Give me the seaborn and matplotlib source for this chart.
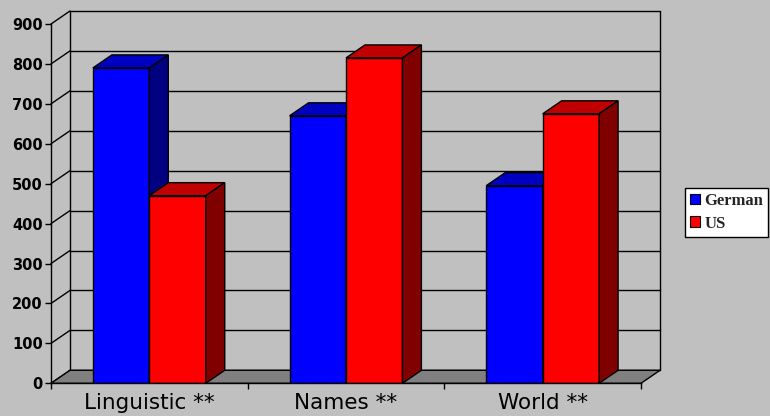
import pandas as pd
import seaborn as sns
import matplotlib.pyplot as plt
from matplotlib.patches import Polygon, Patch

# data
CATEGORIES = ["Linguistic **", "Names **", "World **"]
GROUPS = ["German", "US"]
GERMAN = [790, 670, 495]
US = [470, 815, 675]
Y_TICKS = [0, 100, 200, 300, 400, 500, 600, 700, 800, 900]

# Excel-ish colours: front, top, side
FACE = {"German": "#0000FF", "US": "#FF0000"}
TOP = {"German": "#0000C0", "US": "#C00000"}
SIDE = {"German": "#000080", "US": "#800000"}
BG = "#C0C0C0"
FLOOR = "#808080"

df = pd.DataFrame({
    "Category": CATEGORIES * 2,
    "Score": GERMAN + US,
    "Group": ["German"] * len(GERMAN) + ["US"] * len(US),
})

sns.set_style("white")
plt.rcParams["font.family"] = ["DejaVu Sans"]

fig = plt.figure(figsize=(7.7, 4.16), dpi=100, facecolor=BG)
ax = fig.add_axes([51 / 770, (416 - 383.3) / 416, 590 / 770, 359.3 / 416])
ax.set_facecolor(BG)

sns.barplot(data=df, x="Category", y="Score", hue="Group", order=CATEGORIES,
            hue_order=GROUPS, palette=FACE, saturation=1, width=0.574, gap=0,
            edgecolor="black", linewidth=1, legend=False, ax=ax)

ax.set_xlim(-0.5, 2.5)
ax.set_ylim(0, 900)

# depth of the fake 3D box, in data units (~19px right, 13px up)
dx = 19 / 197
dy = 13 / 0.3992
x0, x1 = ax.get_xlim()

# floor
ax.add_patch(Polygon([(x0, 0), (x1, 0), (x1 + dx, dy), (x0 + dx, dy)],
                     closed=True, facecolor=FLOOR, edgecolor="black", lw=1,
                     zorder=1, clip_on=False))

# back wall gridlines + left wall diagonals
for v in Y_TICKS:
    ax.plot([x0 + dx, x1 + dx], [v + dy, v + dy], color="black", lw=1,
            zorder=0.5, clip_on=False)
    ax.plot([x0, x0 + dx], [v, v + dy], color="black", lw=1,
            zorder=0.5, clip_on=False)
for xx in (x0 + dx, x1 + dx):
    ax.plot([xx, xx], [dy, Y_TICKS[-1] + dy], color="black", lw=1,
            zorder=0.5, clip_on=False)

# 3D tops and sides for each bar
for z, (cont, grp) in enumerate(zip(ax.containers, GROUPS)):
    for bar in cont:
        bx, bw, bh = bar.get_x(), bar.get_width(), bar.get_height()
        bar.set_zorder(3 + z)
        top = [(bx, bh), (bx + bw, bh), (bx + bw + dx, bh + dy), (bx + dx, bh + dy)]
        side = [(bx + bw, 0), (bx + bw + dx, dy), (bx + bw + dx, bh + dy), (bx + bw, bh)]
        ax.add_patch(Polygon(top, closed=True, facecolor=TOP[grp],
                             edgecolor="black", lw=1, zorder=3 + z, clip_on=False))
        ax.add_patch(Polygon(side, closed=True, facecolor=SIDE[grp],
                             edgecolor="black", lw=1, zorder=3 + z, clip_on=False))

# axes
sns.despine(ax=ax, top=True, right=True)
for s in ("left", "bottom"):
    ax.spines[s].set_color("black")
    ax.spines[s].set_linewidth(1)
    ax.spines[s].set_zorder(6)

ax.set_yticks(Y_TICKS)
ax.set_yticklabels([str(v) for v in Y_TICKS], fontsize=10.5, fontweight="bold")
ax.tick_params(axis="y", direction="out", length=4, width=1, pad=2,
               colors="black", left=True)

ax.set_xticks(range(len(CATEGORIES)))
ax.set_xticklabels(CATEGORIES, fontsize=15.5)
ax.set_xticks([x0, 0.5, 1.5, x1], minor=True)
ax.tick_params(axis="x", which="major", length=0, pad=7, colors="black")
ax.tick_params(axis="x", which="minor", direction="out", length=4, width=1,
               bottom=True, color="black")
ax.set_xlabel("")
ax.set_ylabel("")
ax.grid(False)

# legend
handles = [Patch(facecolor=FACE[g], edgecolor="black", lw=0.8) for g in GROUPS]
leg = fig.legend(handles, GROUPS, loc="upper left",
                 bbox_to_anchor=(685 / 770, (416 - 188) / 416),
                 prop={"family": ["Liberation Serif"], "weight": "bold", "size": 12},
                 handlelength=0.6, handleheight=0.6, handletextpad=0.25,
                 labelspacing=0.4, borderpad=0.3, borderaxespad=0,
                 fancybox=False, framealpha=1, facecolor="white",
                 edgecolor="black")
leg.get_frame().set_linewidth(1)

fig.savefig("out.png", dpi=100, facecolor=BG)
